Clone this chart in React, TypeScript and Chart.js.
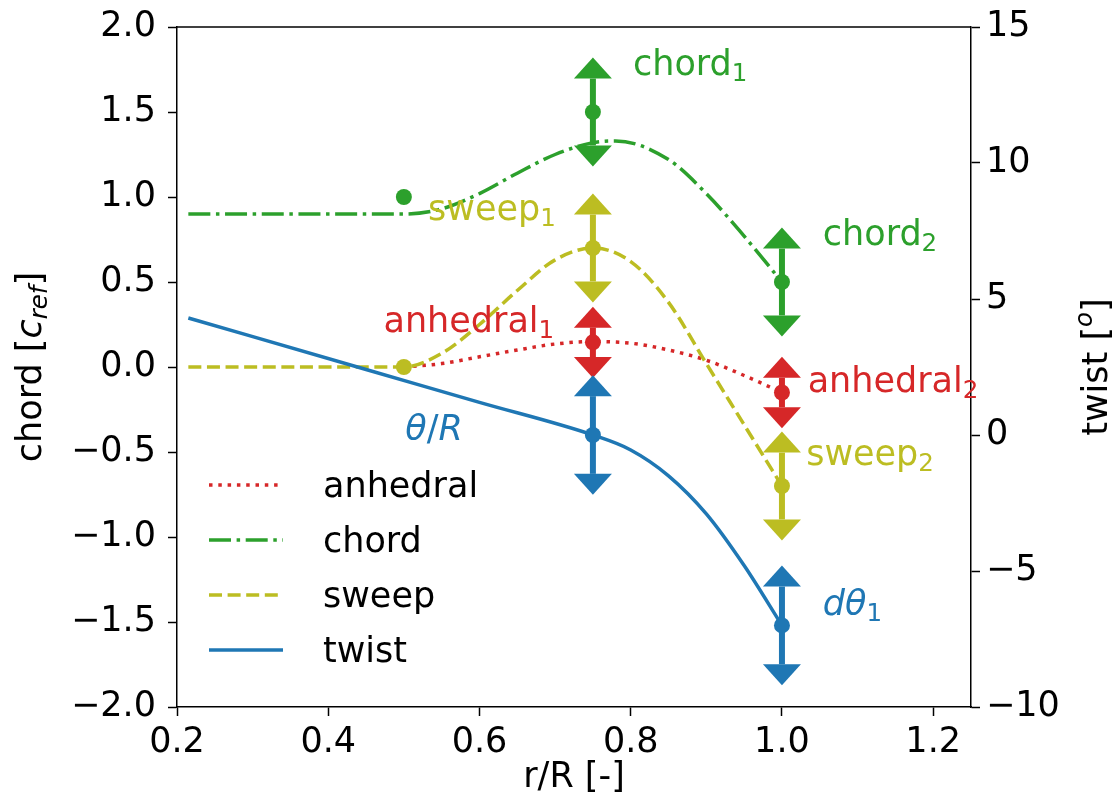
import React, { useEffect, useRef } from 'react';
import { Chart, registerables } from 'chart.js';

Chart.register(...registerables);

// ---------- data ----------
const X_TICKS = [0.2, 0.4, 0.6, 0.8, 1.0, 1.2];
const CHORD_TICKS = [-2.0, -1.5, -1.0, -0.5, 0.0, 0.5, 1.0, 1.5, 2.0];
const TWIST_TICKS = [-10, -5, 0, 5, 10, 15];

// curves
const anhedralX = [0.5, 0.55, 0.6, 0.65, 0.7, 0.75, 0.8, 0.85, 0.9, 0.95, 1.0];
const anhedralY = [0.0, 0.02, 0.06, 0.1, 0.135, 0.15, 0.14, 0.1, 0.04, -0.05, -0.15];

const chordX = [0.215, 0.5, 0.55, 0.6, 0.65, 0.7, 0.75, 0.78, 0.85, 0.9, 0.95, 1.0];
const chordY = [0.9, 0.9, 0.93, 1.02, 1.14, 1.25, 1.32, 1.33, 1.22, 1.02, 0.77, 0.5];

const sweepX = [0.215, 0.5, 0.55, 0.6, 0.65, 0.7, 0.75, 0.8, 0.85, 0.9, 0.95, 1.0];
const sweepY = [0.0, 0.0, 0.08, 0.25, 0.45, 0.63, 0.7, 0.62, 0.38, 0.02, -0.34, -0.7];

// twist in degrees (right axis)
const twistX = [0.215, 0.45, 0.6, 0.75, 0.8, 0.85, 0.9, 0.95, 1.0];
const twistY = [4.3, 2.41, 1.2, 0.0, -0.55, -1.5, -2.9, -4.8, -7.0];

// control points (markers)
const chordPtsX = [0.5, 0.75, 1.0];
const chordPtsY = [1.0, 1.5, 0.5];
const sweepPtsX = [0.5, 0.75, 1.0];
const sweepPtsY = [0.0, 0.7, -0.7];
const anhedralPtsX = [0.75, 1.0];
const anhedralPtsY = [0.145, -0.15];
const twistPtsX = [0.75, 1.0];
const twistPtsY = [0.0, -7.0];

// design-variable ranges (arrows) : x, centre, half range
const chordVarX = [0.75, 1.0];
const chordVarY = [1.5, 0.5];
const chordVarHalf = [0.32, 0.32];
const sweepVarX = [0.75, 1.0];
const sweepVarY = [0.7, -0.7];
const sweepVarHalf = [0.32, 0.32];
const anhedralVarX = [0.75, 1.0];
const anhedralVarY = [0.145, -0.15];
const anhedralVarHalf = [0.21, 0.21];
const twistVarX = [0.75, 1.0];
const twistVarY = [0.0, -7.0];
const twistVarHalf = [2.2, 2.2];

// ---------- styles ----------
const GREEN = '#2ca02c';
const OLIVE = '#bcbd22';
const RED = '#d62728';
const BLUE = '#1f77b4';
const FAMILY = '"DejaVu Sans", "Liberation Sans", sans-serif';
const FS = 35;
const LW = 3.5;

type Run = { t: string; italic?: boolean; scale?: number; dy?: number };

const ARROWS: Record<string, { xs: number[]; ys: number[]; half: number[]; axis: string; color: string }> = {
  anhedral: { xs: anhedralVarX, ys: anhedralVarY, half: anhedralVarHalf, axis: 'y', color: RED },
  chord: { xs: chordVarX, ys: chordVarY, half: chordVarHalf, axis: 'y', color: GREEN },
  sweep: { xs: sweepVarX, ys: sweepVarY, half: sweepVarHalf, axis: 'y', color: OLIVE },
  twist: { xs: twistVarX, ys: twistVarY, half: twistVarHalf, axis: 'y1', color: BLUE },
};

const SUB = 0.7;
const LABELS: { runs: Run[]; x: number; y: number; axis: string; color: string }[] = [
  { runs: [{ t: 'chord' }, { t: '1', scale: SUB, dy: 0.17 }], x: 0.803, y: 1.72, axis: 'y', color: GREEN },
  { runs: [{ t: 'chord' }, { t: '2', scale: SUB, dy: 0.17 }], x: 1.054, y: 0.718, axis: 'y', color: GREEN },
  { runs: [{ t: 'sweep' }, { t: '1', scale: SUB, dy: 0.17 }], x: 0.532, y: 0.865, axis: 'y', color: OLIVE },
  { runs: [{ t: 'sweep' }, { t: '2', scale: SUB, dy: 0.17 }], x: 1.032, y: -0.576, axis: 'y', color: OLIVE },
  { runs: [{ t: 'anhedral' }, { t: '1', scale: SUB, dy: 0.17 }], x: 0.473, y: 0.206, axis: 'y', color: RED },
  { runs: [{ t: 'anhedral' }, { t: '2', scale: SUB, dy: 0.17 }], x: 1.034, y: -0.147, axis: 'y', color: RED },
  { runs: [{ t: 'θ', italic: true }, { t: '/' }, { t: 'R', italic: true }], x: 0.502, y: -0.43, axis: 'y', color: BLUE },
  { runs: [{ t: 'dθ', italic: true }, { t: '1', scale: SUB, dy: 0.17 }], x: 1.054, y: -1.459, axis: 'y', color: BLUE },
];

function fontOf(r: Run, fs: number) {
  return `${r.italic ? 'italic ' : ''}${fs * (r.scale || 1)}px ${FAMILY}`;
}

function drawRuns(ctx: CanvasRenderingContext2D, runs: Run[], x: number, y: number, fs: number, color: string, align: 'left' | 'center') {
  ctx.save();
  ctx.textAlign = 'left';
  ctx.textBaseline = 'alphabetic';
  ctx.fillStyle = color;
  const widths = runs.map((r) => {
    ctx.font = fontOf(r, fs);
    return ctx.measureText(r.t).width;
  });
  const total = widths.reduce((a, b) => a + b, 0);
  let cx = align === 'center' ? x - total / 2 : x;
  runs.forEach((r, i) => {
    ctx.font = fontOf(r, fs);
    ctx.fillText(r.t, cx, y + (r.dy || 0) * fs);
    cx += widths[i];
  });
  ctx.restore();
}

function drawArrow(ctx: CanvasRenderingContext2D, px: number, pTop: number, pBot: number, color: string) {
  const hh = 21;
  const hw = 19;
  ctx.save();
  ctx.strokeStyle = color;
  ctx.fillStyle = color;
  ctx.lineWidth = 6;
  ctx.lineCap = 'butt';
  ctx.beginPath();
  ctx.moveTo(px, pTop + hh);
  ctx.lineTo(px, pBot - hh);
  ctx.stroke();
  ctx.beginPath();
  ctx.moveTo(px, pTop);
  ctx.lineTo(px - hw, pTop + hh);
  ctx.lineTo(px + hw, pTop + hh);
  ctx.closePath();
  ctx.fill();
  ctx.beginPath();
  ctx.moveTo(px, pBot);
  ctx.lineTo(px - hw, pBot - hh);
  ctx.lineTo(px + hw, pBot - hh);
  ctx.closePath();
  ctx.fill();
  ctx.restore();
}

const decorPlugin = {
  id: 'decor',
  afterDatasetDraw(chart: any, args: any) {
    const ds = chart.data.datasets[args.index];
    if (!ds.arrowsOf) return;
    const a = ARROWS[ds.arrowsOf];
    const xs = chart.scales.x;
    const ys = chart.scales[a.axis];
    const ctx = chart.ctx;
    a.xs.forEach((xv, i) => {
      const px = xs.getPixelForValue(xv);
      const top = ys.getPixelForValue(a.ys[i] + a.half[i]);
      const bot = ys.getPixelForValue(a.ys[i] - a.half[i]);
      drawArrow(ctx, px, top, bot, a.color);
    });
  },
  afterDraw(chart: any) {
    const ctx: CanvasRenderingContext2D = chart.ctx;
    const ca = chart.chartArea;
    // top spine
    ctx.save();
    ctx.strokeStyle = '#000';
    ctx.lineWidth = 1.5;
    ctx.beginPath();
    ctx.moveTo(ca.left, ca.top);
    ctx.lineTo(ca.right, ca.top);
    ctx.stroke();
    ctx.restore();

    // annotations
    LABELS.forEach((l) => {
      const px = chart.scales.x.getPixelForValue(l.x);
      const py = chart.scales[l.axis].getPixelForValue(l.y);
      drawRuns(ctx, l.runs, px, py, FS, l.color, 'left');
    });

    // legend
    const entries = chart.data.datasets.filter((d: any) => d.legendRank !== undefined)
      .sort((a: any, b: any) => a.legendRank - b.legendRank);
    const x1 = ca.left + 32;
    const x2 = ca.left + 106;
    const tx = ca.left + 146;
    const y0 = ca.bottom - 222;
    entries.forEach((d: any, i: number) => {
      const y = y0 + i * 55;
      ctx.save();
      ctx.strokeStyle = d.borderColor;
      ctx.lineWidth = d.borderWidth;
      ctx.setLineDash(d.borderDash || []);
      ctx.lineCap = 'butt';
      ctx.beginPath();
      ctx.moveTo(x1, y);
      ctx.lineTo(x2, y);
      ctx.stroke();
      ctx.restore();
      drawRuns(ctx, [{ t: d.label }], tx, y + 12, FS, '#000', 'left');
    });

    // axis titles
    const midY = (ca.top + ca.bottom) / 2;
    ctx.save();
    ctx.translate(41, midY);
    ctx.rotate(-Math.PI / 2);
    drawRuns(ctx, [
      { t: 'chord [' },
      { t: 'c', italic: true },
      { t: 'ref', italic: true, scale: SUB, dy: 0.17 },
      { t: ']' },
    ], 0, 0, FS, '#000', 'center');
    ctx.restore();

    ctx.save();
    ctx.translate(1107, midY);
    ctx.rotate(-Math.PI / 2);
    drawRuns(ctx, [
      { t: 'twist [' },
      { t: 'o', italic: true, scale: SUB, dy: -0.42 },
      { t: ']' },
    ], 0, 0, FS, '#000', 'center');
    ctx.restore();

    drawRuns(ctx, [{ t: 'r/R [-]' }], (ca.left + ca.right) / 2, 787, FS, '#000', 'center');
  },
};

const pts = (xs: number[], ys: number[]) => xs.map((x, i) => ({ x, y: ys[i] }));
const minus = (s: string) => s.replace('-', '\u2212');

const fitY = (w: number) => (s: any) => {
  s.width = w;
  s.paddingTop = 0;
  s.paddingBottom = 0;
};

export default function App() {
  const ref = useRef<HTMLCanvasElement | null>(null);

  useEffect(() => {
    if (!ref.current) return;
    const lineBase = {
      showLine: true,
      pointRadius: 0,
      pointHoverRadius: 0,
      borderWidth: LW,
      cubicInterpolationMode: 'monotone' as const,
      fill: false,
    };
    const markerBase = {
      showLine: false,
      pointRadius: 8,
      pointHoverRadius: 8,
      pointBorderWidth: 0,
    };
    const chart = new Chart(ref.current, {
      type: 'scatter',
      data: {
        datasets: [
          { ...lineBase, label: 'anhedral', legendRank: 0, arrowsOf: 'anhedral', data: pts(anhedralX, anhedralY), borderColor: RED, borderDash: [3.5, 5.8], yAxisID: 'y', order: 8 } as any,
          { ...markerBase, data: pts(anhedralPtsX, anhedralPtsY), backgroundColor: RED, pointBackgroundColor: RED, yAxisID: 'y', order: 7 } as any,
          { ...lineBase, label: 'chord', legendRank: 1, arrowsOf: 'chord', data: pts(chordX, chordY), borderColor: GREEN, borderDash: [22, 5.6, 3.5, 5.6], yAxisID: 'y', order: 6 } as any,
          { ...markerBase, data: pts(chordPtsX, chordPtsY), backgroundColor: GREEN, pointBackgroundColor: GREEN, yAxisID: 'y', order: 5 } as any,
          { ...lineBase, label: 'sweep', legendRank: 2, arrowsOf: 'sweep', data: pts(sweepX, sweepY), borderColor: OLIVE, borderDash: [13, 5.6], yAxisID: 'y', order: 4 } as any,
          { ...markerBase, data: pts(sweepPtsX, sweepPtsY), backgroundColor: OLIVE, pointBackgroundColor: OLIVE, yAxisID: 'y', order: 3 } as any,
          { ...lineBase, label: 'twist', legendRank: 3, arrowsOf: 'twist', data: pts(twistX, twistY), borderColor: BLUE, borderDash: [], yAxisID: 'y1', order: 2 } as any,
          { ...markerBase, data: pts(twistPtsX, twistPtsY), backgroundColor: BLUE, pointBackgroundColor: BLUE, yAxisID: 'y1', order: 1 } as any,
        ],
      },
      options: {
        responsive: false,
        animation: false,
        devicePixelRatio: 1,
        layout: { padding: { top: 27, left: 0, right: 0, bottom: 0 } },
        plugins: { legend: { display: false }, tooltip: { enabled: false } },
        events: [],
        scales: {
          x: {
            type: 'linear',
            min: 0.2,
            max: 1.25,
            afterBuildTicks: (s: any) => { s.ticks = X_TICKS.map((v) => ({ value: v })); },
            afterFit: (s: any) => { s.height = 98; s.paddingLeft = 0; s.paddingRight = 0; },
            ticks: {
              callback: (v: any) => Number(v).toFixed(1),
              font: { family: FAMILY, size: FS },
              color: '#000',
              padding: 6,
              maxRotation: 0,
              autoSkip: false,
            },
            grid: { drawOnChartArea: false, drawTicks: true, tickLength: 9, tickColor: '#000', tickWidth: 1.5 },
            border: { display: true, color: '#000', width: 1.5 },
          },
          y: {
            type: 'linear',
            position: 'left',
            min: -2,
            max: 2,
            afterBuildTicks: (s: any) => { s.ticks = CHORD_TICKS.map((v) => ({ value: v })); },
            afterFit: fitY(177),
            ticks: {
              callback: (v: any) => minus(Number(v).toFixed(1)),
              font: { family: FAMILY, size: FS },
              color: '#000',
              padding: 12,
              autoSkip: false,
            },
            grid: { drawOnChartArea: false, drawTicks: true, tickLength: 9, tickColor: '#000', tickWidth: 1.5 },
            border: { display: true, color: '#000', width: 1.5 },
          },
          y1: {
            type: 'linear',
            position: 'right',
            min: -10,
            max: 15,
            afterBuildTicks: (s: any) => { s.ticks = TWIST_TICKS.map((v) => ({ value: v })); },
            afterFit: fitY(149),
            ticks: {
              callback: (v: any) => minus(String(v)),
              font: { family: FAMILY, size: FS },
              color: '#000',
              padding: 6,
              autoSkip: false,
            },
            grid: { drawOnChartArea: false, drawTicks: true, tickLength: 9, tickColor: '#000', tickWidth: 1.5 },
            border: { display: true, color: '#000', width: 1.5 },
          },
        },
      } as any,
      plugins: [decorPlugin as any],
    });
    return () => chart.destroy();
  }, []);

  return (
    <div style={{ position: 'fixed', left: 0, top: 0, width: 1120, height: 805, background: '#fff' }}>
      <canvas ref={ref} width={1120} height={805} style={{ width: 1120, height: 805, display: 'block' }} />
    </div>
  );
}
